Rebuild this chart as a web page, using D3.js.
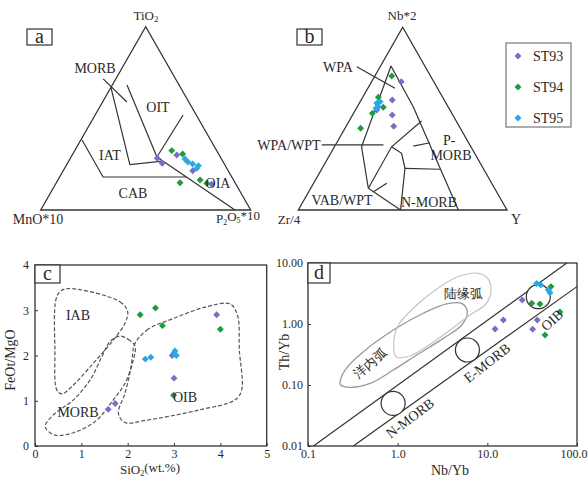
<!DOCTYPE html>
<html>
<head>
<meta charset="utf-8">
<script src="https://cdn.jsdelivr.net/npm/d3@7"></script>
<style>
  body { margin: 0; background: #fff; }
  svg text { font-family: "Liberation Serif", "Times New Roman", serif; fill: #2a2a2a; }
</style>
</head>
<body>
<svg id="chart" width="588" height="478"></svg>
<script>
// sample names and colours
const series = ["ST93", "ST94", "ST95"];
const colors = ["#7b6dc4", "#1f9a3c", "#2ba7e6"];

// panel a: TiO2 - MnO*10 - P2O5*10 (percent)
const aST93 = [[28.2,30.4,41.4],[25.5,29.4,45.1],[30.0,20.2,49.8],[21.4,16.9,61.7],[14.0,11.6,74.4]];
const aST94 = [[32.4,21.4,46.2],[30.6,17.1,52.3],[14.9,26.2,58.9],[16.4,15.9,67.7],[14.6,13.6,71.8]];
const aST95 = [[27.8,17.4,54.8],[26.2,16.8,57.0],[25.1,15.1,59.8],[24.2,12.8,63.0],[22.7,14.4,62.9]];
// field boundaries of panel a
const aLines = [
  [[71.5,34.5,-6.0],[58.9,29.5,11.6]],
  [[66.6,33.2,0.2],[26.7,48.8,32.5],[26.7,28.5,44.8]],
  [[68.2,24.8,7.0],[28.9,30.2,40.9]],
  [[28.9,30.2,40.9],[0,7.5,92.5]],
  [[28.9,30.2,40.9],[51.8,6.3,41.9]],
  [[38.2,61.2,0.6],[18.0,61.3,20.7],[18.0,21.6,60.4]]
];

// panel b: Nb*2 - Zr/4 - Y (percent)
const bST93 = [[70.2,15.6,14.2],[60.2,24.9,14.9],[52.0,29.0,19.0],[45.8,31.4,22.8],[54.7,35.1,10.2]];
const bST94 = [[73.3,18.6,8.1],[61.7,30.8,7.5],[56.2,31.2,12.6],[52.9,38.1,9.0],[44.7,47.8,7.5]];
const bST95 = [[58.4,33.2,8.4],[56.5,33.4,10.1],[59.3,31.2,9.5],[55.7,34.9,9.4]];
const bLines = [
  [[78.8,16.2,5.0],[34.6,52.4,13.0],[11.9,60.5,27.6]],
  [[78.8,16.2,5.0],[56.5,16.7,26.8],[0,23.3,76.7]],
  [[35.6,71.0,-6.6],[35.6,41.4,23.0]],
  [[11.9,60.5,27.6],[34.6,38.0,27.4],[48.7,16.6,34.7]],
  [[34.6,38.0,27.4],[31.0,35.0,34.0],[22.8,37.5,39.7],[0,51.0,49.0]],
  [[11.9,60.5,27.6],[0,51.0,49.0]],
  [[22.8,37.5,39.7],[22.3,20.7,57.0]],
  [[10.0,59.0,31.0],[14.6,50.3,35.1]],
  [[78.4,32.8,-11.2],[66.6,20.4,13.0]],
  [[35.0,27.4,37.6],[36.8,18.5,44.7]]
];

// panel c: SiO2 vs FeOt/MgO
const cST93 = [[1.58,0.81],[1.73,0.94],[2.96,2.0],[3.0,1.5],[3.92,2.9]];
const cST94 = [[2.27,2.9],[2.6,3.05],[2.75,2.66],[4.0,2.58],[2.99,1.12]];
const cST95 = [[2.38,1.92],[2.5,1.96],[3.02,2.1],[3.05,2.0],[3.0,2.05]];
const cIAB = [[0.72,3.48],[1.83,3.19],[2.0,2.97],[1.94,2.71],[1.69,2.34],[1.26,1.83],[0.79,1.31],[0.58,1.15],[0.47,1.24],[0.43,2.12],[0.45,3.23],[0.54,3.41]];
const cMORB = [[1.83,2.43],[2.01,2.36],[2.16,2.2],[2.12,1.9],[1.94,1.38],[1.69,1.02],[1.33,0.57],[0.9,0.32],[0.43,0.24],[0.22,0.43],[0.4,0.69],[0.83,1.02],[1.19,1.46],[1.44,1.97],[1.62,2.31]];
const cOIB = [[2.14,2.23],[2.41,2.56],[2.99,2.82],[3.71,3.08],[4.21,3.14],[4.37,2.89],[4.41,2.12],[4.46,1.24],[4.32,1.02],[3.56,0.8],[2.41,0.57],[1.94,0.52],[1.8,0.72],[1.94,1.16],[2.06,1.68],[2.11,2.05]];

// panel d: Nb/Yb vs Th/Yb
const dST93 = [[12.2,0.83],[15.1,1.16],[24.5,2.47],[36,1.16],[32,0.82]];
const dST94 = [[51.3,4.1],[31.3,2.19],[38.6,2.13],[64.5,1.58],[44,0.66]];
const dST95 = [[35.5,4.6],[39.4,4.35],[47.9,3.6],[50,3.26]];
const dArray = [[[0.115,0.01],[77,10]], [[0.32,0.01],[100,4.1]]];
const dCircles = [[0.89,0.05],[6.0,0.375],[37,2.8]];
const dOceanArc = [[0.228,0.1135],[0.259,0.176],[0.414,0.351],[0.895,0.798],[1.93,1.5],[3.52,2.13],[5.17,2.18],[5.98,1.59],[5.17,0.964],[3.23,0.582],[1.63,0.31],[0.895,0.176],[0.491,0.106],[0.294,0.0916],[0.231,0.1]];
const dContArc = [[0.958,0.291],[0.91,0.547],[1.02,0.964],[1.63,2.05],[2.97,4.09],[4.95,6.12],[7.94,6.77],[10.3,5.4],[10.9,3.18],[9.42,2.05],[6.41,1.41],[3.84,0.798],[2.1,0.425],[1.37,0.299]];

const cTicks = [0,1,2,3,4,5];
const cYTicks = [0,1,2,3,4];
const dXTicks = [0.1,1,10,100];
const dYTicks = [0.01,0.1,1,10];

const svg = d3.select("#chart");
const stroke = "#333";

// ternary -> pixel, d = [top, left, right]
function tern(frame) {
  return d => {
    const s = d[0] + d[1] + d[2];
    const t = d[0] / s, l = d[1] / s, r = d[2] / s;
    return [frame.left[0] * l + frame.right[0] * r + frame.top[0] * t,
            frame.left[1] * l + frame.right[1] * r + frame.top[1] * t];
  };
}

function diamond(g, pts, color) {
  g.selectAll(null).data(pts).enter().append("path")
    .attr("d", d3.symbol(d3.symbolSquare, 24))
    .attr("transform", d => `translate(${d[0]},${d[1]}) rotate(45)`)
    .attr("fill", color);
}

function label(g, x, y, txt, size, anchor, rot) {
  const t = g.append("text").attr("x", x).attr("y", y).attr("dy", "0.35em")
    .attr("text-anchor", anchor || "middle").attr("font-size", size || 14).text(txt);
  if (rot) t.attr("transform", `rotate(${rot},${x},${y})`);
  return t;
}

function letterBox(x, y, w, h, txt) {
  svg.append("rect").attr("x", x).attr("y", y).attr("width", w).attr("height", h)
    .attr("fill", "#fff").attr("stroke", stroke).attr("stroke-width", 1.2);
  label(svg, x + w / 2, y + h / 2 - 1, txt, 20);
}

const line = d3.line();

// ---------- panel a ----------
const frameA = { left: [40.7, 210], right: [250.7, 210], top: [145.7, 26.7] };
const toA = tern(frameA);
const gA = svg.append("g");
gA.append("path").attr("d", line([frameA.left, frameA.right, frameA.top]) + "Z")
  .attr("fill", "none").attr("stroke", stroke).attr("stroke-width", 1.3);
aLines.forEach(l => gA.append("path").attr("d", line(l.map(toA)))
  .attr("fill", "none").attr("stroke", stroke).attr("stroke-width", 1.2));
[aST93, aST94, aST95].forEach((s, i) => diamond(gA, s.map(toA), colors[i]));
label(gA, 95, 68, "MORB");
label(gA, 158, 107, "OIT");
label(gA, 110, 155, "IAT");
label(gA, 133, 193, "CAB");
label(gA, 218, 183, "OIA");
const tio = label(gA, 146, 15, "TiO", 13);
tio.append("tspan").attr("font-size", 9).attr("dy", "0.3em").text("2");
label(gA, 38, 219, "MnO*10", 14);
const p2o5 = gA.append("text").attr("x", 238).attr("y", 218).attr("dy", "0.35em")
  .attr("text-anchor", "middle").attr("font-size", 13).text("P");
p2o5.append("tspan").attr("font-size", 8).attr("dy", "0.3em").text("2");
p2o5.append("tspan").attr("dy", "-0.3em").text("O");
p2o5.append("tspan").attr("font-size", 8).attr("dy", "0.3em").text("5");
p2o5.append("tspan").attr("dy", "-0.3em").text("*10");
letterBox(27, 29, 25, 16, "a");

// ---------- panel b ----------
const frameB = { left: [298.3, 210], right: [507, 210], top: [402.7, 27.3] };
const toB = tern(frameB);
const gB = svg.append("g");
gB.append("path").attr("d", line([frameB.left, frameB.right, frameB.top]) + "Z")
  .attr("fill", "none").attr("stroke", stroke).attr("stroke-width", 1.3);
bLines.forEach(l => gB.append("path").attr("d", line(l.map(toB)))
  .attr("fill", "none").attr("stroke", stroke).attr("stroke-width", 1.2));
[bST93, bST94, bST95].forEach((s, i) => diamond(gB, s.map(toB), colors[i]));
label(gB, 338, 67, "WPA");
label(gB, 289, 145, "WPA/WPT");
label(gB, 443, 140, "P-", 14, "start");
label(gB, 451, 155, "MORB");
label(gB, 342, 200, "VAB/WPT");
label(gB, 429, 202, "N-MORB");
label(gB, 402, 15, "Nb*2", 13);
label(gB, 289, 219, "Zr/4", 13);
label(gB, 516, 219, "Y", 14);
letterBox(297, 29, 25, 16, "b");

// legend
const gL = svg.append("g");
gL.append("rect").attr("x", 506).attr("y", 43).attr("width", 65).attr("height", 84)
  .attr("fill", "#fff").attr("stroke", "#777").attr("stroke-width", 1.2);
const legY = d3.scalePoint().domain(series).range([56, 118]);
series.forEach((s, i) => {
  diamond(gL, [[518, legY(s)]], colors[i]);
  label(gL, 533, legY(s), s, 14, "start");
});

// ---------- panel c ----------
const xC = d3.scaleLinear().domain([0, 5]).range([35, 266.7]);
const yC = d3.scaleLinear().domain([0, 4]).range([446, 265]);
const gC = svg.append("g");
gC.append("g").attr("transform", "translate(0,446)")
  .call(d3.axisBottom(xC).tickValues(cTicks).tickSize(-3).tickPadding(3).tickFormat(d3.format("d")))
  .call(g => g.select(".domain").remove());
gC.append("g").attr("transform", "translate(35,0)")
  .call(d3.axisLeft(yC).tickValues(cYTicks).tickSize(-3).tickPadding(6).tickFormat(d3.format("d")))
  .call(g => g.select(".domain").remove());
gC.selectAll(".tick text").attr("font-size", 12).attr("font-family", "Liberation Serif").attr("fill", "#333");
gC.selectAll(".tick line").attr("stroke", stroke);
gC.append("rect").attr("x", 35).attr("y", 265).attr("width", 231.7).attr("height", 181)
  .attr("fill", "none").attr("stroke", stroke).attr("stroke-width", 1.3);
const curveC = d3.line().x(d => xC(d[0])).y(d => yC(d[1])).curve(d3.curveCatmullRomClosed.alpha(0.5));
[cIAB, cMORB, cOIB].forEach(f => gC.append("path").attr("d", curveC(f))
  .attr("fill", "none").attr("stroke", "#555").attr("stroke-width", 1.2).attr("stroke-dasharray", "4,2"));
[cST93, cST94, cST95].forEach((s, i) => diamond(gC, s.map(d => [xC(d[0]), yC(d[1])]), colors[i]));
label(gC, 78, 315, "IAB");
label(gC, 78, 412, "MORB");
label(gC, 185, 397, "OIB");
const siT = gC.append("text").attr("x", 150).attr("y", 469).attr("dy", "0.35em")
  .attr("text-anchor", "middle").attr("font-size", 13).text("SiO");
siT.append("tspan").attr("font-size", 8).attr("dy", "0.3em").text("2");
siT.append("tspan").attr("dy", "-0.3em").text("(wt.%)");
label(gC, 10, 360, "FeOt/MgO", 14, "middle", -90);
letterBox(35, 265, 25, 18, "c");

// ---------- panel d ----------
const xD = d3.scaleLog().domain([0.1, 100]).range([308, 577]);
const yD = d3.scaleLog().domain([0.01, 10]).range([446, 263]);
const gD = svg.append("g");
gD.append("g").attr("transform", "translate(0,446)")
  .call(d3.axisBottom(xD).tickValues(dXTicks).tickSize(-3).tickPadding(3).tickFormat(d3.format(".1f")))
  .call(g => g.select(".domain").remove())
  .call(g => g.selectAll(".tick text").filter(d => d === 100).attr("text-anchor", "end").attr("x", 10));
gD.append("g").attr("transform", "translate(308,0)")
  .call(d3.axisLeft(yD).tickValues(dYTicks).tickSize(-3).tickPadding(5).tickFormat(d3.format(".2f")))
  .call(g => g.select(".domain").remove());
gD.selectAll(".tick text").attr("font-size", 12).attr("font-family", "Liberation Serif").attr("fill", "#333");
gD.selectAll(".tick line").attr("stroke", stroke);
const pD = d => [xD(d[0]), yD(d[1])];
const curveD = d3.line().x(d => xD(d[0])).y(d => yD(d[1])).curve(d3.curveCatmullRomClosed.alpha(0.5));
gD.append("path").attr("d", curveD(dOceanArc)).attr("fill", "none").attr("stroke", "#999").attr("stroke-width", 1.3);
gD.append("path").attr("d", curveD(dContArc)).attr("fill", "none").attr("stroke", "#c4c4c4").attr("stroke-width", 1.2);
dArray.forEach(l => gD.append("path").attr("d", line(l.map(pD)))
  .attr("fill", "none").attr("stroke", stroke).attr("stroke-width", 1.2));
dCircles.forEach(c => gD.append("circle").attr("cx", xD(c[0])).attr("cy", yD(c[1])).attr("r", 12)
  .attr("fill", "#fff").attr("stroke", stroke).attr("stroke-width", 1.2));
gD.append("rect").attr("x", 308).attr("y", 263).attr("width", 269).attr("height", 183)
  .attr("fill", "none").attr("stroke", stroke).attr("stroke-width", 1.3);
[dST93, dST94, dST95].forEach((s, i) => diamond(gD, s.map(pD), colors[i]));
label(gD, 410, 418, "N-MORB", 14, "middle", -37);
label(gD, 487, 363, "E-MORB", 14, "middle", -38);
label(gD, 552, 320, "OIB", 14, "middle", -42);
label(gD, 463, 293, "陆缘弧", 13).attr("font-family", "Noto Sans CJK SC").attr("fill", "#777");
label(gD, 370, 363, "洋内弧", 13, "middle", -40).attr("font-family", "Noto Sans CJK SC").attr("fill", "#777");
label(gD, 450, 470, "Nb/Yb", 14);
label(gD, 284, 352, "Th/Yb", 14, "middle", -90);
letterBox(308, 263, 22, 20, "d");
</script>
</body>
</html>
